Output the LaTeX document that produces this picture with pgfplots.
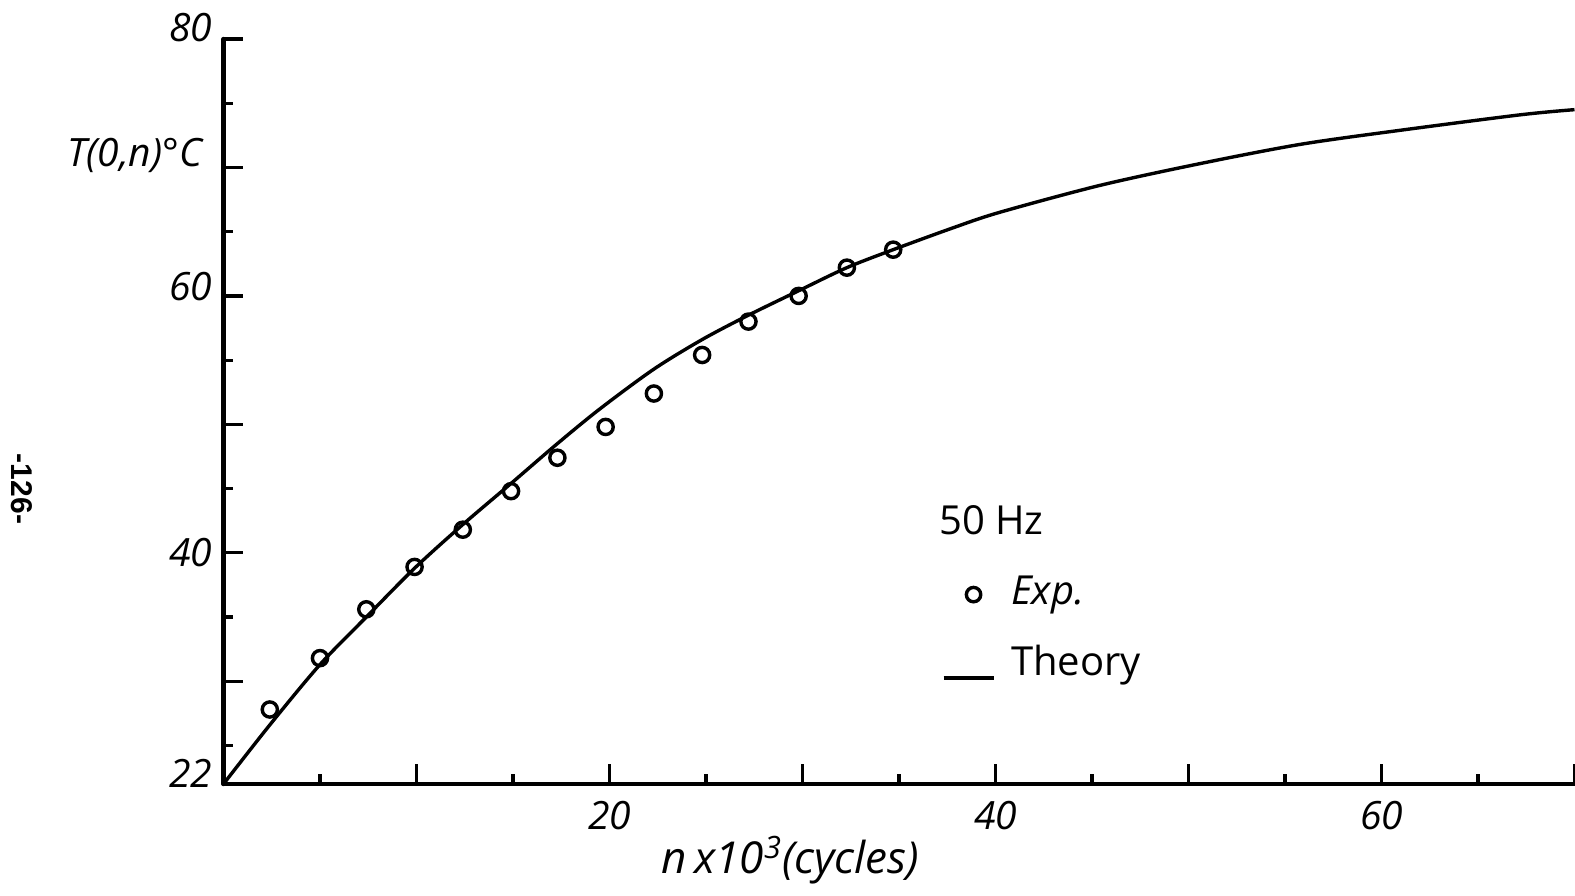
\documentclass[border=0pt]{standalone}
\usepackage{fontspec}
\setmainfont{Open Sans}
\newfontfamily\pagefont{Liberation Sans}
\usepackage{pgfplots}
\usepackage{pgfplotstable}
\pgfplotsset{compat=1.18}

% measured surface temperature, 50 Hz
\pgfplotstableread{
n T
2.4 27.8
5.0 31.8
7.4 35.6
9.9 38.9
12.4 41.8
14.9 44.8
17.3 47.4
19.8 49.8
22.3 52.4
24.8 55.4
27.2 58.0
29.8 60.0
32.3 62.2
34.7 63.6
}\expdata

% theoretical curve
\pgfplotstableread{
n T
0 22.0
2.4 26.6
5.0 31.3
7.4 35.0
9.9 38.8
12.4 42.2
14.9 45.4
17.3 48.5
19.5 51.2
22.3 54.3
24.8 56.6
27.2 58.5
29.8 60.4
32.3 62.2
34.7 63.6
37.8 65.3
40.2 66.5
45.4 68.6
50.6 70.3
55.8 71.8
61.0 72.9
67.2 74.1
70.0 74.5
}\theorydata

\begin{document}
\begin{tikzpicture}
\path[use as bounding box] (-111.75pt,-55.5pt) rectangle (675.75pt,392pt);
\begin{axis}[
  scale only axis,
  width=675.5pt, height=372.5pt,
  xmin=0, xmax=70, ymin=22, ymax=80,
  axis x line*=bottom, axis y line*=left,
  axis line style={line width=2.2pt, line cap=round},
  tick align=inside,
  major tick length=10pt, minor tick length=5pt,
  every tick/.append style={line width=1.6pt, black},
  xtick={10,20,...,70}, xticklabels={,20,,40,,60,},
  minor xtick={5,15,...,65},
  ytick={22,30,40,50,60,70,80},
  yticklabels={\raisebox{-1.5pt}[0pt][0pt]{22},,\raisebox{-7pt}[0pt][0pt]{40},,\raisebox{-2.5pt}[0pt][0pt]{60},,\raisebox{-1pt}[0pt][0pt]{80}},
  minor ytick={25,35,...,75},
  /pgf/number format/assume math mode=true,
  tick label style={font=\fontsize{19.5}{22}\selectfont\itshape},
  yticklabel style={inner xsep=0pt, xshift=-5.5pt},
  xticklabel style={yshift=-5pt},
  clip=false,
  every axis x label/.style={at={(rel axis cs:0.4197,0)}, anchor=center, yshift=-38pt,
    font=\fontsize{22}{25}\selectfont\itshape},
  every axis y label/.style={at={(rel axis cs:0,0.8443)}, anchor=east, inner sep=0pt, xshift=-10.5pt,
    font=\fontsize{19.5}{22}\selectfont\itshape},
  xlabel={n\,x10\textsuperscript{3}(cycles)},
  ylabel={T(0,n)°C},
  legend style={draw=none, fill=none, at={(axis cs:37.2,44.0)}, anchor=north west,
    font=\fontsize{20}{23}\selectfont, row sep=15pt, inner sep=0pt,
    /tikz/every odd column/.append style={column sep=6pt}},
  legend cell align=left,
]
\addlegendimage{empty legend}
\addlegendentry{\hspace*{-36pt}50 Hz}

\addplot[only marks, mark=o, mark size=3.8pt, mark options={line width=1.7pt},
  legend image code/.code={\draw[line width=1.7pt] plot[only marks, mark=o, mark size=3.6pt] coordinates {(15pt,-1.5pt)};}]
  table[x=n, y=T] {\expdata};
\addlegendentry{\itshape Exp.}

\addplot[line width=1.7pt, smooth, tension=0.5,
  legend image code/.code={\draw[line width=1.7pt] (0pt,-8pt) -- (25pt,-8pt);}]
  table[x=n, y=T] {\theorydata};
\addlegendentry{Theory}
\end{axis}
\node[rotate=-90, font=\pagefont\bfseries\fontsize{15}{18}\selectfont] at (-101pt,147.5pt) {-126-};
\end{tikzpicture}
\end{document}
